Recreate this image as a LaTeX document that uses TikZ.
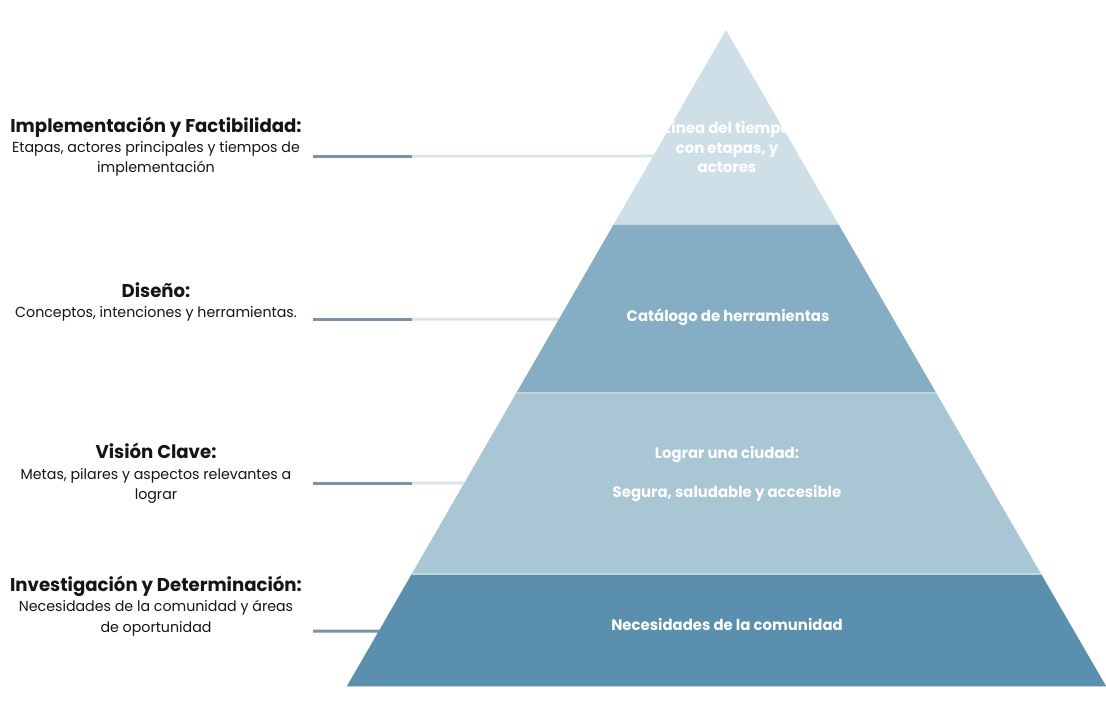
\documentclass[tikz,border=0pt]{standalone}
\usepackage{fontspec}
\setmainfont{Poppins}[FakeStretch=0.98]
\usetikzlibrary{calc}
\definecolor{layA}{HTML}{CFDFE8}
\definecolor{layB}{HTML}{85AEC4}
\definecolor{layC}{HTML}{A9C6D4}
\definecolor{layD}{HTML}{5A90AE}
\definecolor{sepC}{HTML}{C2D6E0}
\definecolor{lnDark}{HTML}{7D93A3}
\definecolor{lnLight}{HTML}{DCE4EA}
\definecolor{txt}{HTML}{151515}
\tikzset{
  head/.style={anchor=base, inner sep=0pt, text=txt, font=\fontsize{18.5}{20}\selectfont\bfseries},
  body/.style={anchor=base, inner sep=0pt, text=txt, font=\fontsize{14.5}{16}\selectfont},
  inlab/.style={anchor=base, inner sep=0pt, text=white, font=\fontsize{15.2}{16}\selectfont\bfseries},
  darkln/.style={draw=lnDark, line width=3pt},
  lightln/.style={draw=lnLight, line width=3pt},
}
\begin{document}
\begin{tikzpicture}[x=1pt,y=-1pt]
\useasboundingbox (0,0) rectangle (1106,716);
\fill[white] (0,0) rectangle (1106,716);
% pyramid frame
\coordinate (apex) at (726,30);
\coordinate (BL) at (347,686);
\coordinate (BR) at (1106,686);
\foreach \n/\y in {a/225,b/393,c/574} {
  \coordinate (L\n) at ($(apex)!{(\y-30)/656}!(BL)$);
  \coordinate (R\n) at ($(apex)!{(\y-30)/656}!(BR)$);
}
% connectors
\foreach \i/\y in {1/156,2/319,3/483,4/631} {
  \coordinate (s\i) at (313,\y);
  \coordinate (m\i) at (412,\y);
  \coordinate (e\i) at ($(apex)!{(\y-30)/656}!(BL)$);
}
\draw[lightln] (m1) -- (e1);
\draw[lightln] (m2) -- (e2);
\draw[lightln] (m3) -- (e3);
\draw[darkln] (s1) -- (m1);
\draw[darkln] (s2) -- (m2);
\draw[darkln] (s3) -- (m3);
\draw[darkln] (s4) -- (e4);
% layers
\fill[layA] (apex) -- (Ra) -- (La) -- cycle;
\fill[layB] (La) -- (Ra) -- (Rb) -- (Lb) -- cycle;
\fill[layC] (Lb) -- (Rb) -- (Rc) -- (Lc) -- cycle;
\fill[layD] (Lc) -- (Rc) -- (BR) -- (BL) -- cycle;
\draw[sepC, line width=1.5pt] (Lb) -- (Rb);
\draw[sepC, line width=2pt] (Lc) -- (Rc);
\draw[draw=lnLight!80!gray, line width=1pt] (BL) -- (BR);
% left labels
\node[head] (h1) at (156,132) {Implementación y Factibilidad:};
\node[body] (b1a) at (156,152) {Etapas, actores principales y tiempos de};
\node[body] (b1b) at (156,172) {implementación};
\node[head] (h2) at (156,297) {Diseño:};
\node[body] (b2a) at (156,317) {Conceptos, intenciones y herramientas.};
\node[head] (h3) at (156,458) {Visión Clave:};
\node[body] (b3a) at (156,479) {Metas, pilares y aspectos relevantes a};
\node[body] (b3b) at (156,499) {lograr};
\node[head] (h4) at (156,591) {Investigación y Determinación:};
\node[body] (b4a) at (156,611) {Necesidades de la comunidad y áreas};
\node[body] (b4b) at (156,632) {de oportunidad};
% layer labels
\node[inlab] (t1a) at (727,133) {Línea del tiempo};
\node[inlab] (t1b) at (727,153) {con etapas, y};
\node[inlab] (t1c) at (727,172) {actores};
\node[inlab] (t2) at (728,321) {Catálogo de herramientas};
\node[inlab] (t3a) at (727,458) {Lograr una ciudad:};
\node[inlab] (t3b) at (727,497) {Segura, saludable y accesible};
\node[inlab] (t4) at (727,630) {Necesidades de la comunidad};
\end{tikzpicture}
\end{document}
